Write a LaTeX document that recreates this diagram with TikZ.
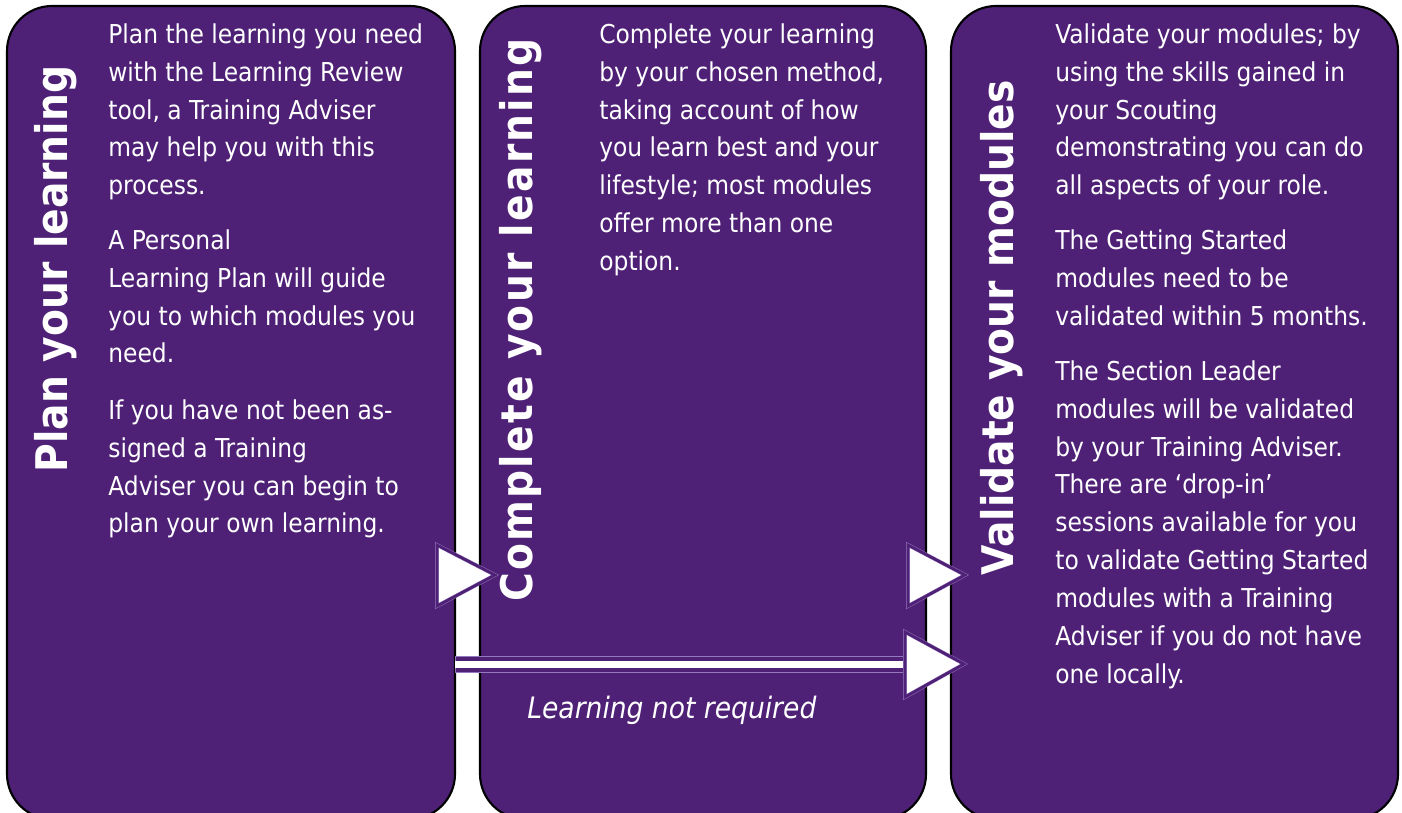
\documentclass[tikz,border=0pt]{standalone}
\usepackage{fontspec}
\setmainfont{DejaVu Sans Condensed}
\usepackage{tikz}

\definecolor{scoutpurple}{RGB}{78,33,118}
\definecolor{lilac}{RGB}{150,120,190}

\tikzset{
  panel/.style={draw=black, line width=1.2pt, fill=scoutpurple, rounded corners=0.9cm},
  heading/.style={text=white, rotate=90, inner sep=0pt, font=\bfseries\fontsize{24.8}{28}\selectfont},
  body/.style={text=white, align=left, inner sep=0pt, anchor=north west, font=\fontsize{14.8}{21.6}\selectfont},
  pointer/.style={fill=white, draw=lilac, double=scoutpurple, double distance=1.6pt, line width=0.25pt, line join=miter}
}

\begin{document}
\begin{tikzpicture}[x=0.02cm, y=-0.02cm]
    \useasboundingbox (0,0) rectangle (1402,813);
    \clip (0,0) rectangle (1402,813);

    % Panels
    \draw[panel] (7,6) rectangle (455,819);
    \draw[panel] (480,6) rectangle (926,819);
    \draw[panel] (951,6) rectangle (1398,819);

    % Headings
    \node[heading] (planhead) at (56,269) {Plan your learning};
    \node[heading] (completehead) at (521,320) {\addfontfeature{LetterSpace=5.3}Complete your learning};
    \node[heading] (validatehead) at (1002,328) {Validate your modules};

    % Text of first panel
    \node[body] (plantext) at (108,23) {Plan the learning you need\\with the Learning Review\\tool, a Training Adviser\\may help you with this\\process.};
    \node[body] (plantext2) at (108,229) {A Personal\\Learning Plan will guide\\you to which modules you\\need.};
    \node[body] (plantext3) at (108,399) {If you have not been as-\\signed a Training\\Adviser you can begin to\\plan your own learning.};

    % Text of second panel
    \node[body] (completetext) at (599,23) {Complete your learning\\by your chosen method,\\taking account of how\\you learn best and your\\lifestyle; most modules\\offer more than one\\option.};
    \node[text=white, inner sep=0pt, anchor=west, font=\itshape\fontsize{16.8}{19}\selectfont] (notreq) at (527,710) {Learning not required};

    % Text of third panel
    \node[body] (validatetext) at (1055,23) {Validate your modules; by\\using the skills gained in\\your Scouting\\demonstrating you can do\\all aspects of your role.};
    \node[body] (validatetext2) at (1055,229) {The Getting Started\\modules need to be\\validated within 5 months.};
    \node[body] (validatetext3) at (1055,360) {The Section Leader\\modules will be validated\\by your Training Adviser.\\There are ‘drop-in’\\sessions available for you\\to validate Getting Started\\modules with a Training\\Adviser if you do not have\\one locally.};

    % Pointers between panels
    \draw[pointer] (437,545) -- (437,606) -- (495,575) -- cycle;
    \draw[pointer] (908,545) -- (908,606) -- (965,575) -- cycle;

    % Long arrow skipping the learning
    \draw[draw=lilac, line width=0.25pt, fill=scoutpurple] (455,656) rectangle (905,672);
    \fill[white] (455,661) rectangle (905,668);
    \draw[pointer] (905,632) -- (905,697) -- (964,664) -- cycle;
\end{tikzpicture}
\end{document}
